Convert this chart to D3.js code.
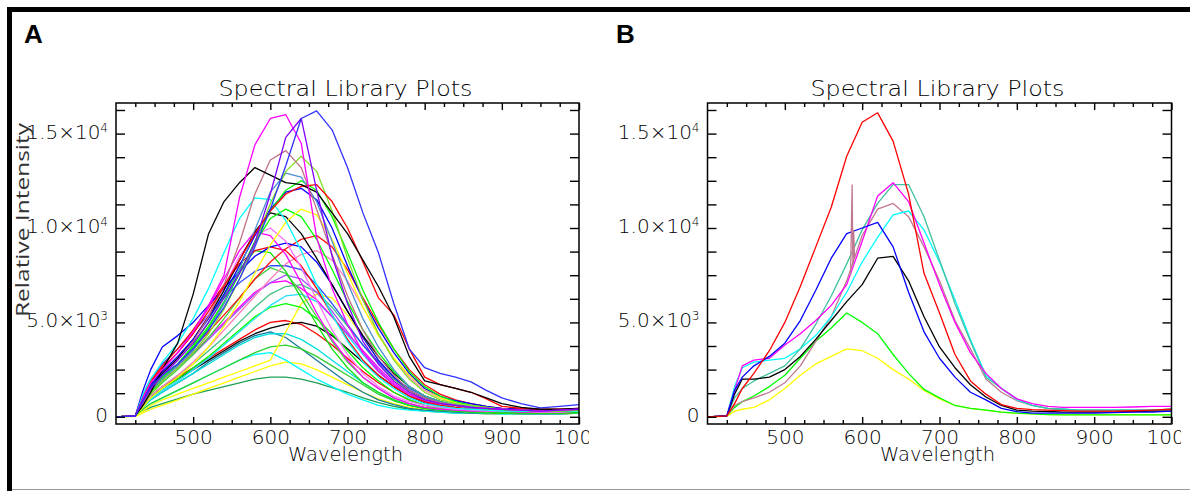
<!DOCTYPE html>
<html lang="en">

<head>
    <meta charset="UTF-8">
    <title>Spectral Library Plots</title>
    <script src="https://d3js.org/d3.v7.min.js"></script>
    <style>
        body {
            margin: 0;
            background: #fff;
        }

        svg {
            display: block;
        }

        .idl {
            font-family: "DejaVu Sans", sans-serif;
            font-weight: 200;
            fill: #000;
        }
    </style>
</head>

<body>
    <svg id="chart" width="1190" height="491"></svg>

    <script>
        // wavelength grid (nm) shared by every spectrum
        const wavelengths = [400, 425, 435, 445, 460, 480, 500, 520, 540, 560, 580, 600, 620, 640, 660,
            680, 700, 720, 740, 760, 780, 800, 820, 840, 860, 880, 900, 925, 950, 975, 1000];

        const xTickValues = [500, 600, 700, 800, 900, 1000];
        const xTickLabels = ["500", "600", "700", "800", "900", "1000"];
        const yTickValues = [0, 5000, 10000, 15000];
        const yTickMantissa = ["0", "5.0\u00d710", "1.0\u00d710", "1.5\u00d710"];
        const yTickExponent = ["", "3", "4", "4"];

        // panel A spectra, intensity in thousands
        const aBlue1 = [0, 0.05, 0.9, 1.6, 2.2, 2.8, 3.6, 4.6, 5.8, 7.3, 9.0, 11.0, 13.3, 15.8, 16.2, 15.2, 13.2, 10.8, 8.7, 6.0, 3.6, 2.6, 2.3, 2.1, 1.85, 1.4, 1.0, 0.7, 0.47, 0.55, 0.65];
        const aPurple1 = [0, 0.05, 0.8, 1.5, 2.2, 3.0, 3.9, 5.0, 6.3, 7.6, 9.2, 11.8, 14.8, 15.8, 12.0, 8.5, 6.0, 4.0, 2.8, 1.9, 1.3, 0.9, 0.7, 0.6, 0.5, 0.45, 0.4, 0.35, 0.3, 0.35, 0.4];
        const aMagenta1 = [0, 0.05, 1.0, 1.8, 2.5, 3.4, 4.5, 5.9, 7.5, 11.6, 14.4, 15.8, 16.0, 14.5, 9.5, 6.8, 4.9, 3.4, 2.4, 1.7, 1.2, 0.9, 0.7, 0.6, 0.5, 0.45, 0.4, 0.35, 0.3, 0.35, 0.4];
        const aBlack1 = [0, 0.05, 0.6, 1.3, 2.5, 3.9, 6.5, 9.7, 11.4, 12.4, 13.2, 12.8, 12.4, 12.3, 11.9, 10.8, 9.7, 8.3, 6.9, 5.3, 3.2, 1.9, 1.7, 1.5, 1.3, 1.0, 0.7, 0.5, 0.4, 0.4, 0.45];
        const aRosy = [0, 0.05, 0.7, 1.4, 2.2, 3.0, 4.0, 5.3, 7.0, 9.2, 11.8, 13.6, 14.1, 13.2, 11.0, 8.6, 6.4, 4.6, 3.2, 2.2, 1.4, 1.0, 0.75, 0.6, 0.5, 0.45, 0.4, 0.35, 0.3, 0.35, 0.4];
        const aLime = [0, 0.05, 0.6, 1.2, 1.9, 2.6, 3.4, 4.4, 5.7, 7.3, 9.2, 11.3, 13.0, 13.8, 13.0, 10.9, 8.4, 6.2, 4.4, 3.0, 2.0, 1.3, 0.9, 0.7, 0.6, 0.5, 0.4, 0.35, 0.3, 0.3, 0.35];
        const aSteel = [0, 0.05, 0.8, 1.4, 2.0, 2.7, 3.5, 4.6, 6.0, 7.8, 9.9, 11.9, 12.9, 12.7, 11.4, 9.3, 7.1, 5.2, 3.7, 2.5, 1.6, 1.1, 0.8, 0.65, 0.55, 0.45, 0.4, 0.35, 0.3, 0.3, 0.35];
        const aRed1 = [0, 0.05, 1.0, 1.8, 2.6, 3.4, 4.4, 5.6, 6.9, 8.3, 9.7, 10.9, 11.8, 12.2, 12.3, 11.4, 10.0, 8.2, 6.3, 5.4, 3.6, 2.1, 1.7, 1.5, 1.3, 0.95, 0.55, 0.45, 0.4, 0.4, 0.45];
        const aGreen1 = [0, 0.05, 0.8, 1.4, 2.1, 2.8, 3.6, 4.7, 6.0, 7.6, 9.3, 10.9, 12.0, 12.5, 12.0, 10.6, 8.7, 6.7, 5.0, 3.6, 2.4, 1.6, 1.1, 0.8, 0.6, 0.5, 0.4, 0.35, 0.3, 0.3, 0.35];
        const aCyan1 = [0, 0.05, 1.2, 2.0, 2.9, 3.9, 5.2, 6.8, 8.7, 10.5, 11.6, 11.5, 10.4, 8.8, 7.0, 5.4, 4.0, 2.9, 2.1, 1.5, 1.0, 0.7, 0.55, 0.45, 0.4, 0.35, 0.3, 0.3, 0.3, 0.3, 0.3];
        const aBlack2 = [0, 0.05, 0.9, 1.6, 2.3, 3.1, 4.1, 5.3, 6.7, 8.3, 9.8, 10.8, 10.6, 9.7, 8.4, 7.0, 5.6, 4.3, 3.2, 2.3, 1.6, 1.1, 0.8, 0.6, 0.5, 0.45, 0.4, 0.35, 0.3, 0.3, 0.35];
        const aBlue2 = [0, 0.05, 1.0, 1.7, 2.4, 3.2, 4.1, 5.2, 6.5, 8.0, 9.6, 11.0, 11.9, 12.1, 11.5, 10.0, 8.0, 6.2, 4.7, 3.4, 2.3, 1.5, 1.1, 0.85, 0.7, 0.55, 0.45, 0.4, 0.35, 0.35, 0.4];
        const aYellow1 = [0, 0.05, 0.5, 1.0, 1.5, 2.1, 2.8, 3.7, 4.8, 6.1, 7.6, 9.1, 10.3, 11.0, 10.7, 9.4, 7.6, 5.8, 4.3, 3.1, 2.2, 1.5, 1.0, 0.75, 0.6, 0.5, 0.4, 0.35, 0.3, 0.3, 0.35];
        const aPink1 = [0, 0.05, 0.9, 1.6, 2.3, 3.1, 4.1, 5.4, 6.9, 8.5, 9.6, 10.0, 9.3, 7.9, 6.2, 4.6, 3.3, 2.3, 1.6, 1.1, 0.8, 0.6, 0.5, 0.4, 0.35, 0.3, 0.3, 0.3, 0.25, 0.25, 0.3];
        const aRed2 = [0, 0.05, 0.8, 1.5, 2.1, 2.8, 3.6, 4.5, 5.4, 6.3, 7.3, 8.2, 8.9, 9.4, 9.6, 9.0, 7.8, 6.3, 4.9, 3.6, 2.5, 1.7, 1.2, 0.9, 0.7, 0.55, 0.45, 0.4, 0.35, 0.35, 0.4];
        const aRed3 = [0, 0.05, 1.1, 1.9, 2.7, 3.6, 4.6, 5.8, 7.0, 8.1, 8.8, 9.0, 8.8, 8.0, 6.8, 5.4, 4.1, 3.0, 2.2, 1.6, 1.1, 0.8, 0.6, 0.5, 0.4, 0.35, 0.3, 0.3, 0.3, 0.3, 0.3];
        const aMagenta2 = [0, 0.05, 1.0, 1.7, 2.5, 3.4, 4.5, 5.8, 7.3, 8.8, 9.8, 9.6, 8.6, 7.1, 5.5, 4.1, 3.0, 2.1, 1.5, 1.0, 0.7, 0.5, 0.4, 0.35, 0.3, 0.3, 0.3, 0.25, 0.25, 0.25, 0.3];
        const aBlue3 = [0, 0.05, 1.2, 2.0, 2.8, 3.6, 4.5, 5.4, 6.3, 7.1, 7.7, 8.0, 8.0, 7.8, 7.0, 6.0, 4.9, 3.8, 2.9, 2.1, 1.5, 1.1, 0.8, 0.6, 0.5, 0.4, 0.35, 0.3, 0.3, 0.3, 0.35];
        const aGreen2 = [0, 0.05, 0.7, 1.3, 2.0, 2.8, 3.8, 5.0, 6.4, 7.8, 8.8, 8.7, 7.7, 6.3, 4.9, 3.6, 2.6, 1.8, 1.3, 0.9, 0.6, 0.45, 0.35, 0.3, 0.25, 0.25, 0.2, 0.2, 0.2, 0.2, 0.25];
        const aGreen3 = [0, 0.05, 0.6, 1.2, 1.8, 2.5, 3.3, 4.2, 5.2, 6.3, 7.3, 7.9, 7.6, 6.6, 5.3, 4.0, 2.9, 2.1, 1.5, 1.0, 0.7, 0.5, 0.4, 0.3, 0.25, 0.25, 0.2, 0.2, 0.2, 0.2, 0.25];
        const aYellow2 = [0, 0.02, 0.3, 0.6, 0.9, 1.2, 1.5, 1.8, 2.1, 2.4, 2.7, 3.0, 4.5, 6.0, 6.5, 6.3, 5.4, 4.2, 3.0, 2.0, 1.3, 0.9, 0.65, 0.5, 0.4, 0.35, 0.3, 0.3, 0.25, 0.25, 0.3];
        const aRed4 = [0, 0.05, 0.6, 1.1, 1.6, 2.1, 2.6, 3.1, 3.6, 4.1, 4.6, 5.0, 5.1, 4.9, 4.4, 3.8, 3.1, 2.4, 1.8, 1.3, 0.9, 0.6, 0.45, 0.35, 0.3, 0.25, 0.2, 0.2, 0.2, 0.2, 0.25];
        const aCyan2 = [0, 0.05, 0.5, 0.9, 1.3, 1.8, 2.3, 2.8, 3.3, 3.8, 4.2, 4.4, 4.4, 4.1, 3.6, 3.0, 2.4, 1.8, 1.3, 0.9, 0.6, 0.45, 0.35, 0.3, 0.25, 0.2, 0.2, 0.2, 0.2, 0.2, 0.2];
        const aCyan3 = [0, 0.05, 0.4, 0.7, 1.0, 1.4, 1.8, 2.2, 2.6, 3.0, 3.3, 3.4, 3.0, 2.5, 2.0, 1.6, 1.2, 0.9, 0.6, 0.45, 0.35, 0.3, 0.25, 0.2, 0.2, 0.2, 0.15, 0.15, 0.15, 0.15, 0.2];
        const aTeal = [0, 0.05, 0.5, 0.9, 1.3, 1.8, 2.3, 2.9, 3.4, 3.9, 4.3, 4.5, 4.2, 3.6, 3.0, 2.4, 1.8, 1.3, 0.9, 0.65, 0.45, 0.35, 0.3, 0.25, 0.2, 0.2, 0.2, 0.15, 0.15, 0.15, 0.2];
        const aDarkGreen = [0, 0.05, 0.3, 0.5, 0.7, 0.95, 1.2, 1.4, 1.6, 1.8, 2.0, 2.1, 2.1, 2.0, 1.8, 1.55, 1.3, 1.0, 0.75, 0.55, 0.4, 0.3, 0.25, 0.2, 0.2, 0.15, 0.15, 0.15, 0.15, 0.15, 0.2];
        const aYellow3 = [0, 0.02, 0.2, 0.4, 0.6, 0.9, 1.2, 1.5, 1.8, 2.1, 2.4, 2.7, 2.9, 2.8, 2.5, 2.1, 1.7, 1.3, 0.95, 0.7, 0.5, 0.4, 0.3, 0.25, 0.2, 0.2, 0.2, 0.15, 0.15, 0.15, 0.2];
        const aGreen4 = [0, 0.05, 0.5, 1.0, 1.5, 2.0, 2.6, 3.2, 3.9, 4.6, 5.3, 5.8, 6.0, 5.8, 5.2, 4.4, 3.5, 2.6, 1.9, 1.3, 0.9, 0.6, 0.45, 0.35, 0.3, 0.25, 0.2, 0.2, 0.2, 0.2, 0.25];
        const aSeaGreen = [0, 0.05, 0.6, 1.1, 1.6, 2.2, 2.8, 3.5, 4.2, 5.0, 5.8, 6.5, 6.9, 7.0, 6.6, 5.8, 4.8, 3.8, 2.8, 2.0, 1.4, 0.95, 0.7, 0.5, 0.4, 0.35, 0.3, 0.25, 0.25, 0.25, 0.3];
        const aBlack3 = [0, 0.05, 0.6, 1.1, 1.5, 2.0, 2.5, 3.0, 3.5, 4.0, 4.4, 4.7, 4.9, 5.0, 4.8, 4.3, 3.6, 2.9, 2.2, 1.6, 1.1, 0.75, 0.55, 0.4, 0.35, 0.3, 0.25, 0.25, 0.25, 0.25, 0.3];
        const aMagenta3 = [0, 0.05, 0.8, 1.4, 2.0, 2.7, 3.4, 4.2, 5.0, 5.8, 6.6, 7.1, 7.2, 6.8, 6.2, 5.3, 4.4, 3.5, 2.6, 1.8, 1.2, 0.8, 0.6, 0.45, 0.4, 0.35, 0.3, 0.3, 0.3, 0.3, 0.3];
        const aGreen5 = [0, 0.05, 0.7, 1.3, 2.0, 2.8, 3.7, 4.8, 6.1, 7.6, 9.2, 10.5, 11.0, 10.6, 9.4, 7.8, 6.1, 4.6, 3.4, 2.4, 1.6, 1.1, 0.8, 0.6, 0.5, 0.4, 0.35, 0.3, 0.3, 0.3, 0.3];
        const aBlue4 = [0, 0.05, 1.4, 2.5, 3.7, 4.3, 5.0, 5.9, 6.8, 7.7, 8.5, 9.0, 9.2, 9.0, 8.2, 7.0, 5.6, 4.2, 3.0, 2.1, 1.4, 1.0, 0.75, 0.6, 0.5, 0.4, 0.35, 0.3, 0.3, 0.3, 0.35];
        const aPurple2 = [0, 0.05, 0.7, 1.3, 1.9, 2.6, 3.3, 4.1, 4.9, 5.7, 6.5, 7.1, 7.5, 7.3, 6.6, 5.6, 4.5, 3.4, 2.5, 1.7, 1.2, 0.8, 0.6, 0.45, 0.4, 0.35, 0.3, 0.3, 0.3, 0.3, 0.3];
        const aPink2 = [0, 0.05, 0.6, 1.1, 1.6, 2.2, 2.9, 3.7, 4.6, 5.5, 6.4, 7.3, 8.1, 8.6, 8.8, 8.3, 7.2, 5.8, 4.4, 3.1, 2.1, 1.4, 1.0, 0.7, 0.55, 0.45, 0.4, 0.35, 0.3, 0.3, 0.35];
        const aCyan4 = [0, 0.05, 0.5, 1.0, 1.4, 1.9, 2.5, 3.1, 3.8, 4.5, 5.2, 5.9, 6.4, 6.5, 6.1, 5.3, 4.3, 3.3, 2.4, 1.7, 1.1, 0.8, 0.55, 0.4, 0.35, 0.3, 0.25, 0.25, 0.25, 0.25, 0.3];
        const aGreen6 = [0, 0.05, 0.4, 0.7, 1.0, 1.4, 1.8, 2.2, 2.6, 3.0, 3.4, 3.7, 3.8, 3.6, 3.2, 2.7, 2.2, 1.7, 1.2, 0.85, 0.6, 0.45, 0.35, 0.3, 0.25, 0.2, 0.2, 0.2, 0.2, 0.2, 0.2];

        const panelASeries = [aDarkGreen, aYellow3, aCyan3, aTeal, aCyan2, aGreen6, aRed4, aBlack3, aYellow2,
            aGreen4, aCyan4, aSeaGreen, aMagenta3, aPurple2, aGreen3, aBlue3, aPink2, aGreen2, aRed3, aRed2,
            aBlue4, aMagenta2, aPink1, aBlack2, aGreen5, aYellow1, aCyan1, aBlue2, aGreen1, aSteel, aLime,
            aRosy, aRed1, aBlack1, aMagenta1, aPurple1, aBlue1];
        const panelAColors = ["#20a050", "#ffff00", "#00ffff", "#1a7a9a", "#00e0e0", "#30d030", "#ff0000", "#000000", "#ffff00",
            "#00ff00", "#20e0ff", "#40c080", "#ff00ff", "#a050ff", "#40d040", "#3050ff", "#ff80c0", "#10e010", "#ff0000", "#ff1010",
            "#0000ff", "#ff00ff", "#ff70ff", "#000000", "#00ff00", "#ffff00", "#00ffff", "#0000ff", "#00ff00", "#4a90d0", "#80e020",
            "#c07080", "#ff0000", "#000000", "#ff00ff", "#8000ff", "#3030ff"];

        // panel B spectra, intensity in thousands
        const bYellow = [0, 0.02, 0.3, 0.4, 0.5, 0.9, 1.5, 2.2, 2.8, 3.2, 3.6, 3.5, 3.1, 2.5, 2.0, 1.4, 0.95, 0.6, 0.45, 0.35, 0.25, 0.18, 0.15, 0.12, 0.12, 0.12, 0.12, 0.12, 0.12, 0.12, 0.12];
        const bGreen = [0, 0.05, 0.5, 0.8, 1.1, 1.6, 2.2, 3.1, 4.0, 4.7, 5.5, 5.0, 4.4, 3.3, 2.3, 1.45, 1.0, 0.6, 0.45, 0.35, 0.25, 0.2, 0.15, 0.12, 0.1, 0.1, 0.1, 0.1, 0.1, 0.1, 0.1];
        const bRosy = [0, 0.05, 0.6, 0.8, 1.0, 1.3, 1.8, 2.7, 4.0, 5.3, 7.2, 9.6, 11.0, 11.3, 10.6, 9.0, 7.2, 5.1, 3.6, 2.0, 1.3, 0.85, 0.6, 0.45, 0.4, 0.35, 0.35, 0.35, 0.35, 0.35, 0.4];
        const bCyan = [0, 0.05, 1.6, 2.6, 2.9, 3.0, 3.1, 3.6, 4.3, 5.3, 6.6, 8.2, 9.5, 10.7, 10.9, 9.9, 8.2, 6.2, 4.1, 2.2, 1.5, 0.9, 0.6, 0.45, 0.4, 0.35, 0.35, 0.35, 0.35, 0.35, 0.4];
        const bTeal = [0, 0.05, 1.0, 1.5, 1.9, 2.3, 2.7, 3.6, 4.9, 6.4, 8.1, 9.9, 11.3, 12.3, 12.3, 10.6, 8.3, 6.0, 4.0, 2.1, 1.5, 0.95, 0.6, 0.45, 0.4, 0.35, 0.35, 0.35, 0.35, 0.35, 0.4];
        const bMagenta = [0, 0.05, 1.4, 2.7, 3.0, 3.1, 3.8, 4.4, 5.1, 5.9, 7.0, 9.3, 11.7, 12.4, 11.4, 9.2, 7.0, 5.0, 3.4, 2.3, 1.5, 0.95, 0.7, 0.55, 0.5, 0.5, 0.5, 0.5, 0.52, 0.55, 0.55];
        const bBlack = [0, 0.05, 1.2, 2.0, 2.0, 2.1, 2.5, 3.2, 4.1, 5.1, 6.1, 7.0, 8.4, 8.5, 7.2, 5.3, 3.7, 2.6, 1.7, 1.05, 0.6, 0.35, 0.3, 0.28, 0.25, 0.25, 0.25, 0.25, 0.28, 0.3, 0.3];
        const bBlue = [0, 0.05, 1.4, 2.1, 2.7, 3.2, 3.9, 5.1, 6.7, 8.4, 9.7, 10.0, 10.3, 9.0, 6.6, 4.5, 3.1, 2.1, 1.3, 0.9, 0.45, 0.27, 0.2, 0.2, 0.2, 0.2, 0.2, 0.22, 0.25, 0.25, 0.3];
        const bRed = [0, 0.05, 0.7, 1.5, 2.3, 3.5, 5.0, 6.9, 9.0, 11.1, 13.8, 15.6, 16.1, 14.6, 11.8, 7.6, 5.5, 3.3, 1.9, 1.2, 0.65, 0.45, 0.38, 0.35, 0.33, 0.3, 0.3, 0.3, 0.32, 0.35, 0.4];
        // narrow spike on the rosy spectrum near 587 nm
        const bSpikeWl = [585, 587, 588, 589, 590];
        const bSpikeVal = [7.5, 12.3, 8.0, 9.9, 8.4];

        const panelBSeries = [bYellow, bGreen, bRosy, bCyan, bTeal, bMagenta, bBlack, bBlue, bRed];
        const panelBColors = ["#ffff00", "#00ff00", "#c07890", "#00ffff", "#40c0a0", "#ff00ff", "#000000", "#0000ff", "#ff0000"];

        const svg = d3.select("#chart");

        // frame
        svg.append("rect").attr("x", 7).attr("y", 7).attr("width", 1183).attr("height", 5).attr("fill", "#000");
        svg.append("rect").attr("x", 7).attr("y", 7).attr("width", 5).attr("height", 484).attr("fill", "#000");
        svg.append("line").attr("x1", 12).attr("x2", 1190).attr("y1", 489.5).attr("y2", 489.5)
            .attr("stroke", "#999").attr("stroke-width", 1);

        const plotTop = 103, plotBottom = 424;
        const y = d3.scaleLinear().domain([-381, 16620]).range([plotBottom, plotTop]);

        function drawPanel(left, right, seriesList, colors, letter, letterX, clipRight, yTitle) {
            const x = d3.scaleLinear().domain([400, 1000]).range([left, right]);
            const g = svg.append("g");

            const line = d3.line()
                .x(d => x(d[0]))
                .y(d => y(d[1] * 1000));

            seriesList.forEach((vals, i) => {
                const pts = wavelengths.map((w, j) => [w, vals[j]]);
                g.append("path")
                    .attr("fill", "none")
                    .attr("stroke", colors[i])
                    .attr("stroke-width", 1.3)
                    .attr("stroke-linejoin", "round")
                    .attr("d", line(pts));
            });

            if (letter === "B") {
                const pts = bSpikeWl.map((w, j) => [w, bSpikeVal[j]]);
                g.append("path").attr("fill", "none").attr("stroke", "#c07890")
                    .attr("stroke-width", 1.3).attr("d", line(pts));
            }

            const minorX = d3.range(425, 1000, 25).filter(v => v % 100 !== 0);
            const minorY = d3.range(1250, 16620, 1250).filter(v => v % 5000 !== 0);

            // the original picture was cropped just past the plot, cutting the "1000" label
            const clipId = "clip" + letter;
            svg.append("clipPath").attr("id", clipId)
                .append("rect").attr("x", 0).attr("y", 0).attr("width", clipRight).attr("height", 491);
            const labelHolder = g.append("g").attr("clip-path", `url(#${clipId})`);

            // bottom axis, ticks pointing inwards
            labelHolder.append("g").attr("transform", `translate(0,${plotBottom})`)
                .call(d3.axisBottom(x).tickValues(xTickValues).tickSize(-7).tickSizeOuter(0).tickPadding(6)
                    .tickFormat((d, i) => xTickLabels[i]))
                .call(a => a.select(".domain").remove())
                .call(a => a.selectAll("text").attr("class", "idl").attr("font-size", 20));
            g.append("g").attr("transform", `translate(0,${plotBottom})`)
                .call(d3.axisBottom(x).tickValues(minorX).tickSize(-4).tickSizeOuter(0).tickFormat(""))
                .call(a => a.select(".domain").remove());
            g.append("g").attr("transform", `translate(0,${plotTop})`)
                .call(d3.axisTop(x).tickValues(xTickValues).tickSize(-7).tickSizeOuter(0).tickFormat(""))
                .call(a => a.select(".domain").remove());
            g.append("g").attr("transform", `translate(0,${plotTop})`)
                .call(d3.axisTop(x).tickValues(minorX).tickSize(-4).tickSizeOuter(0).tickFormat(""))
                .call(a => a.select(".domain").remove());
            g.append("g").attr("transform", `translate(${left},0)`)
                .call(d3.axisLeft(y).tickValues(yTickValues.concat(minorY)).tickSize(-9).tickSizeOuter(0).tickFormat(""))
                .call(a => a.select(".domain").remove());
            g.append("g").attr("transform", `translate(${right},0)`)
                .call(d3.axisRight(y).tickValues(yTickValues.concat(minorY)).tickSize(-9).tickSizeOuter(0).tickFormat(""))
                .call(a => a.select(".domain").remove());
            g.selectAll(".tick line").attr("stroke", "#000").attr("stroke-width", 1.4);

            // plot box
            g.append("rect").attr("x", left).attr("y", plotTop)
                .attr("width", right - left).attr("height", plotBottom - plotTop)
                .attr("fill", "none").attr("stroke", "#000").attr("stroke-width", 1.5);

            // y tick labels with superscript exponents
            yTickValues.forEach((v, i) => {
                const t = g.append("text").attr("class", "idl")
                    .attr("x", left - 8).attr("y", y(v) + 5)
                    .attr("text-anchor", "end").attr("font-size", 20);
                t.append("tspan").text(yTickMantissa[i]);
                if (yTickExponent[i]) {
                    t.append("tspan").attr("font-size", 12).attr("dy", -7).text(yTickExponent[i]);
                }
            });

            const cx = (left + right) / 2 - 2;
            g.append("text").attr("class", "idl")
                .attr("x", cx).attr("y", 96).attr("text-anchor", "middle")
                .attr("font-size", 21).attr("textLength", 254).attr("lengthAdjust", "spacingAndGlyphs")
                .text("Spectral Library Plots");
            g.append("text").attr("class", "idl")
                .attr("x", cx).attr("y", 461).attr("text-anchor", "middle")
                .attr("font-size", 20).attr("textLength", 115).attr("lengthAdjust", "spacingAndGlyphs")
                .text("Wavelength");

            g.append("text")
                .attr("x", letterX).attr("y", 43)
                .attr("font-family", "'Liberation Sans', Arial, sans-serif")
                .attr("font-weight", "bold").attr("font-size", 26)
                .text(letter);

            if (yTitle) {
                g.append("text")
                    .attr("transform", "translate(29,220) rotate(-90)")
                    .attr("text-anchor", "middle")
                    .attr("font-family", "'Open Sans', 'Liberation Sans', sans-serif")
                    .attr("font-size", 19).attr("fill", "#333")
                    .attr("textLength", 194).attr("lengthAdjust", "spacingAndGlyphs")
                    .text(yTitle);
            }
        }

        drawPanel(116, 579, panelASeries, panelAColors, "A", 24, 589, "Relative Intensity");
        drawPanel(707.5, 1171.5, panelBSeries, panelBColors, "B", 616, 1181, null);
    </script>
</body>

</html>
